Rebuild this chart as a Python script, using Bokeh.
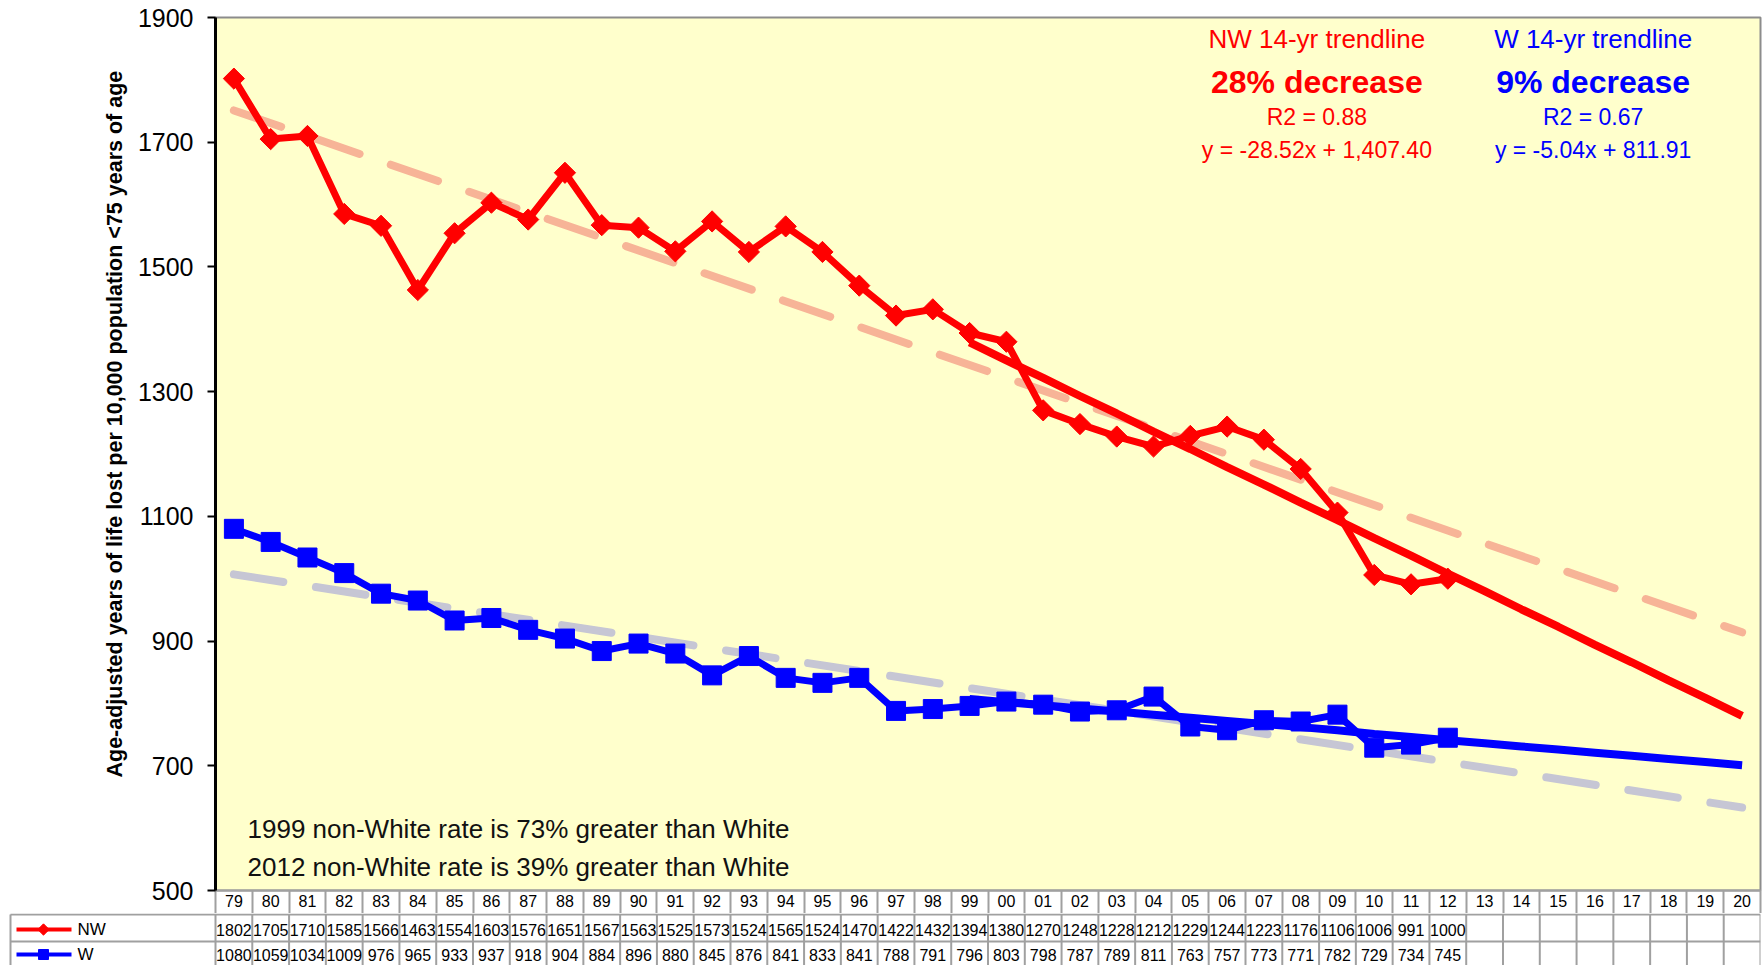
from bokeh.plotting import figure
from bokeh.layouts import column
from bokeh.models import Range1d, FixedTicker, Label, CustomJSTickFormatter, Title
from bokeh.embed import file_html
from bokeh.resources import INLINE
from bokeh.core.properties import value
import math

# ---------------- data ----------------
years = ["79", "80", "81", "82", "83", "84", "85", "86", "87", "88", "89", "90", "91", "92",
         "93", "94", "95", "96", "97", "98", "99", "00", "01", "02", "03", "04", "05", "06",
         "07", "08", "09", "10", "11", "12", "13", "14", "15", "16", "17", "18", "19", "20"]
nw_rate = [1802, 1705, 1710, 1585, 1566, 1463, 1554, 1603, 1576, 1651, 1567, 1563, 1525, 1573,
           1524, 1565, 1524, 1470, 1422, 1432, 1394, 1380, 1270, 1248, 1228, 1212, 1229, 1244,
           1223, 1176, 1106, 1006, 991, 1000]
w_rate = [1080, 1059, 1034, 1009, 976, 965, 933, 937, 918, 904, 884, 896, 880, 845,
          876, 841, 833, 841, 788, 791, 796, 803, 798, 787, 789, 811, 763, 757,
          773, 771, 782, 729, 734, 745]
# 14-yr trendlines drawn from 99 through 20
trend14_start = "99"
nw_trend14 = [1379, 1350, 1322, 1293, 1265, 1236, 1208, 1179, 1151, 1122, 1094, 1065, 1037,
              1008, 980, 951, 923, 894, 866, 837, 809, 780]
w_trend14 = [807, 802, 797, 792, 787, 782, 777, 772, 767, 762, 757, 751, 746, 741, 736, 731,
             726, 721, 716, 711, 706, 701]
# full-range linear trendlines (values at 79 and at 20)
nw_trend_all = [1751, 914]
w_trend_all = [1007, 633]
y_ticks = [500, 700, 900, 1100, 1300, 1500, 1700, 1900]
y_label = "Age-adjusted years of life lost per 10,000 population <75 years of age"

FONT = "Liberation Sans"
RED = "#FF0000"
BLUE = "#0000FF"
GRID = "#A0A0A0"

n = len(years)
xs = [i + 0.5 for i in range(n)]
FIG_W = 1762
LEFT = 215
RIGHT = 2
colw = (FIG_W - LEFT - RIGHT) / n

# ---------------- main chart ----------------
p = figure(width=FIG_W, height=913, x_range=Range1d(0, n), y_range=Range1d(500, 1900),
           output_backend="svg", toolbar_location=None,
           min_border_left=LEFT, min_border_right=RIGHT, min_border_top=17, min_border_bottom=23,
           background_fill_color="#FFFFCC", border_fill_color="white",
           outline_line_color="#8C8C8C", outline_line_width=2)
p.frame_align = False
p.xgrid.visible = False
p.ygrid.visible = False

ya = p.yaxis[0]
ya.ticker = FixedTicker(ticks=y_ticks)
ya.axis_line_color = "black"
ya.axis_line_width = 3
ya.major_tick_in = 0
ya.major_tick_out = 8
ya.major_tick_line_width = 2
ya.major_tick_line_color = "black"
ya.minor_tick_out = 0
ya.minor_tick_in = 0
ya.major_label_text_font = FONT
ya.major_label_text_font_size = "25px"
ya.major_label_text_color = "black"
ya.major_label_standoff = 14

xa = p.xaxis[0]
xa.ticker = FixedTicker(ticks=xs, minor_ticks=list(range(n + 1)))
xa.formatter = CustomJSTickFormatter(args=dict(labels=years),
                                     code="return labels[Math.round(tick - 0.5)];")
xa.axis_line_color = GRID
xa.axis_line_width = 2
xa.major_tick_in = 0
xa.major_tick_out = 0
xa.minor_tick_in = 0
xa.minor_tick_out = 23
xa.minor_tick_line_color = GRID
xa.minor_tick_line_width = 2
xa.major_label_text_font = FONT
xa.major_label_text_font_size = "16px"
xa.major_label_text_color = "black"
xa.major_label_standoff = -19

# y-axis title
p.add_layout(Title(text=y_label, align="left", offset=113, standoff=15,
                   text_font=FONT, text_font_style="bold", text_font_size="21.5px",
                   text_color="black"), "left")

# full-range dashed trendlines
p.line([xs[0], xs[-1]], nw_trend_all, line_color="#F7B497", line_width=8,
       line_dash="50 33", line_cap="round")
p.line([xs[0], xs[-1]], w_trend_all, line_color="#C6C6D4", line_width=8,
       line_dash="50 33", line_cap="round")

# 14-yr trendlines
k = years.index(trend14_start)
p.line(xs[k:k + len(nw_trend14)], nw_trend14, line_color=RED, line_width=8)
p.line(xs[k:k + len(w_trend14)], w_trend14, line_color=BLUE, line_width=8)

# data series
p.line(xs[:len(nw_rate)], nw_rate, line_color=RED, line_width=7)
p.scatter(xs[:len(nw_rate)], nw_rate, marker="square", angle=math.pi / 4, size=15,
          fill_color=RED, line_color=RED)
p.line(xs[:len(w_rate)], w_rate, line_color=BLUE, line_width=7)
p.scatter(xs[:len(w_rate)], w_rate, marker="square", size=19, fill_color=BLUE, line_color=BLUE)

# trendline annotations
ann = [
    (29.94, 1865, "NW 14-yr trendline", RED, "normal", "26px"),
    (29.94, 1797, "28% decrease", RED, "bold", "32px"),
    (29.94, 1741, "R2 = 0.88", RED, "normal", "23px"),
    (29.94, 1687, "y = -28.52x + 1,407.40", RED, "normal", "23px"),
    (37.45, 1865, "W 14-yr trendline", BLUE, "normal", "26px"),
    (37.45, 1797, "9% decrease", BLUE, "bold", "32px"),
    (37.45, 1741, "R2 = 0.67", BLUE, "normal", "23px"),
    (37.45, 1687, "y = -5.04x + 811.91", BLUE, "normal", "23px"),
]
for ax, ay, txt, col, sty, sz in ann:
    p.add_layout(Label(x=ax, y=ay, text=txt, text_align="center", text_baseline="middle",
                       text_font=FONT, text_font_style=sty, text_font_size=sz, text_color=col))

for ay, txt in [(598, "1999 non-White rate is 73% greater than White"),
                (538, "2012 non-White rate is 39% greater than White")]:
    p.add_layout(Label(x=0.87, y=ay, text=txt, text_align="left", text_baseline="middle",
                       text_font=FONT, text_font_size="26px", text_color="#111111"))

# ---------------- data table ----------------
x_left = -LEFT / colw
edge = (10 - LEFT) / colw
t = figure(width=FIG_W, height=52, x_range=Range1d(x_left, n), y_range=Range1d(51, -1),
           output_backend="svg", toolbar_location=None, x_axis_type=None, y_axis_type=None,
           min_border_left=0, min_border_right=RIGHT, min_border_top=0, min_border_bottom=0,
           outline_line_color=None, background_fill_color="white", border_fill_color="white")
t.frame_align = False
t.xgrid.visible = False
t.ygrid.visible = False

row_lines = [0, 27]
t.segment(x0=[edge] * len(row_lines), y0=row_lines, x1=[n] * len(row_lines), y1=row_lines,
          line_color=GRID, line_width=2)
vx = [edge] + list(range(n + 1))
t.segment(x0=vx, y0=[0] * len(vx), x1=vx, y1=[52] * len(vx), line_color=GRID, line_width=2)

row_y = {"NW": 15, "W": 40}
t.text(x=xs[:len(nw_rate)], y=[row_y["NW"]] * len(nw_rate), text=[str(v) for v in nw_rate],
       text_align="center", text_baseline="middle", text_font=value(FONT),
       text_font_size="16px", text_color="black")
t.text(x=xs[:len(w_rate)], y=[row_y["W"]] * len(w_rate), text=[str(v) for v in w_rate],
       text_align="center", text_baseline="middle", text_font=value(FONT),
       text_font_size="16px", text_color="black")

# legend keys
lx0 = (16 - LEFT) / colw
lx1 = (71 - LEFT) / colw
lxm = (43 - LEFT) / colw
ltx = (77 - LEFT) / colw
for name, col, msz, ang in [("NW", RED, 8, math.pi / 4), ("W", BLUE, 10, 0)]:
    yy = row_y[name]
    t.line([lx0, lx1], [yy, yy], line_color=col, line_width=4)
    t.scatter([lxm], [yy], marker="square", angle=ang, size=msz, fill_color=col, line_color=col)
    t.text(x=[ltx], y=[yy], text=[name], text_align="left", text_baseline="middle",
           text_font=value(FONT), text_font_size="17px", text_color="black")

layout = column(p, t, spacing=0)
open("out.html", "w").write(file_html(layout, INLINE))
